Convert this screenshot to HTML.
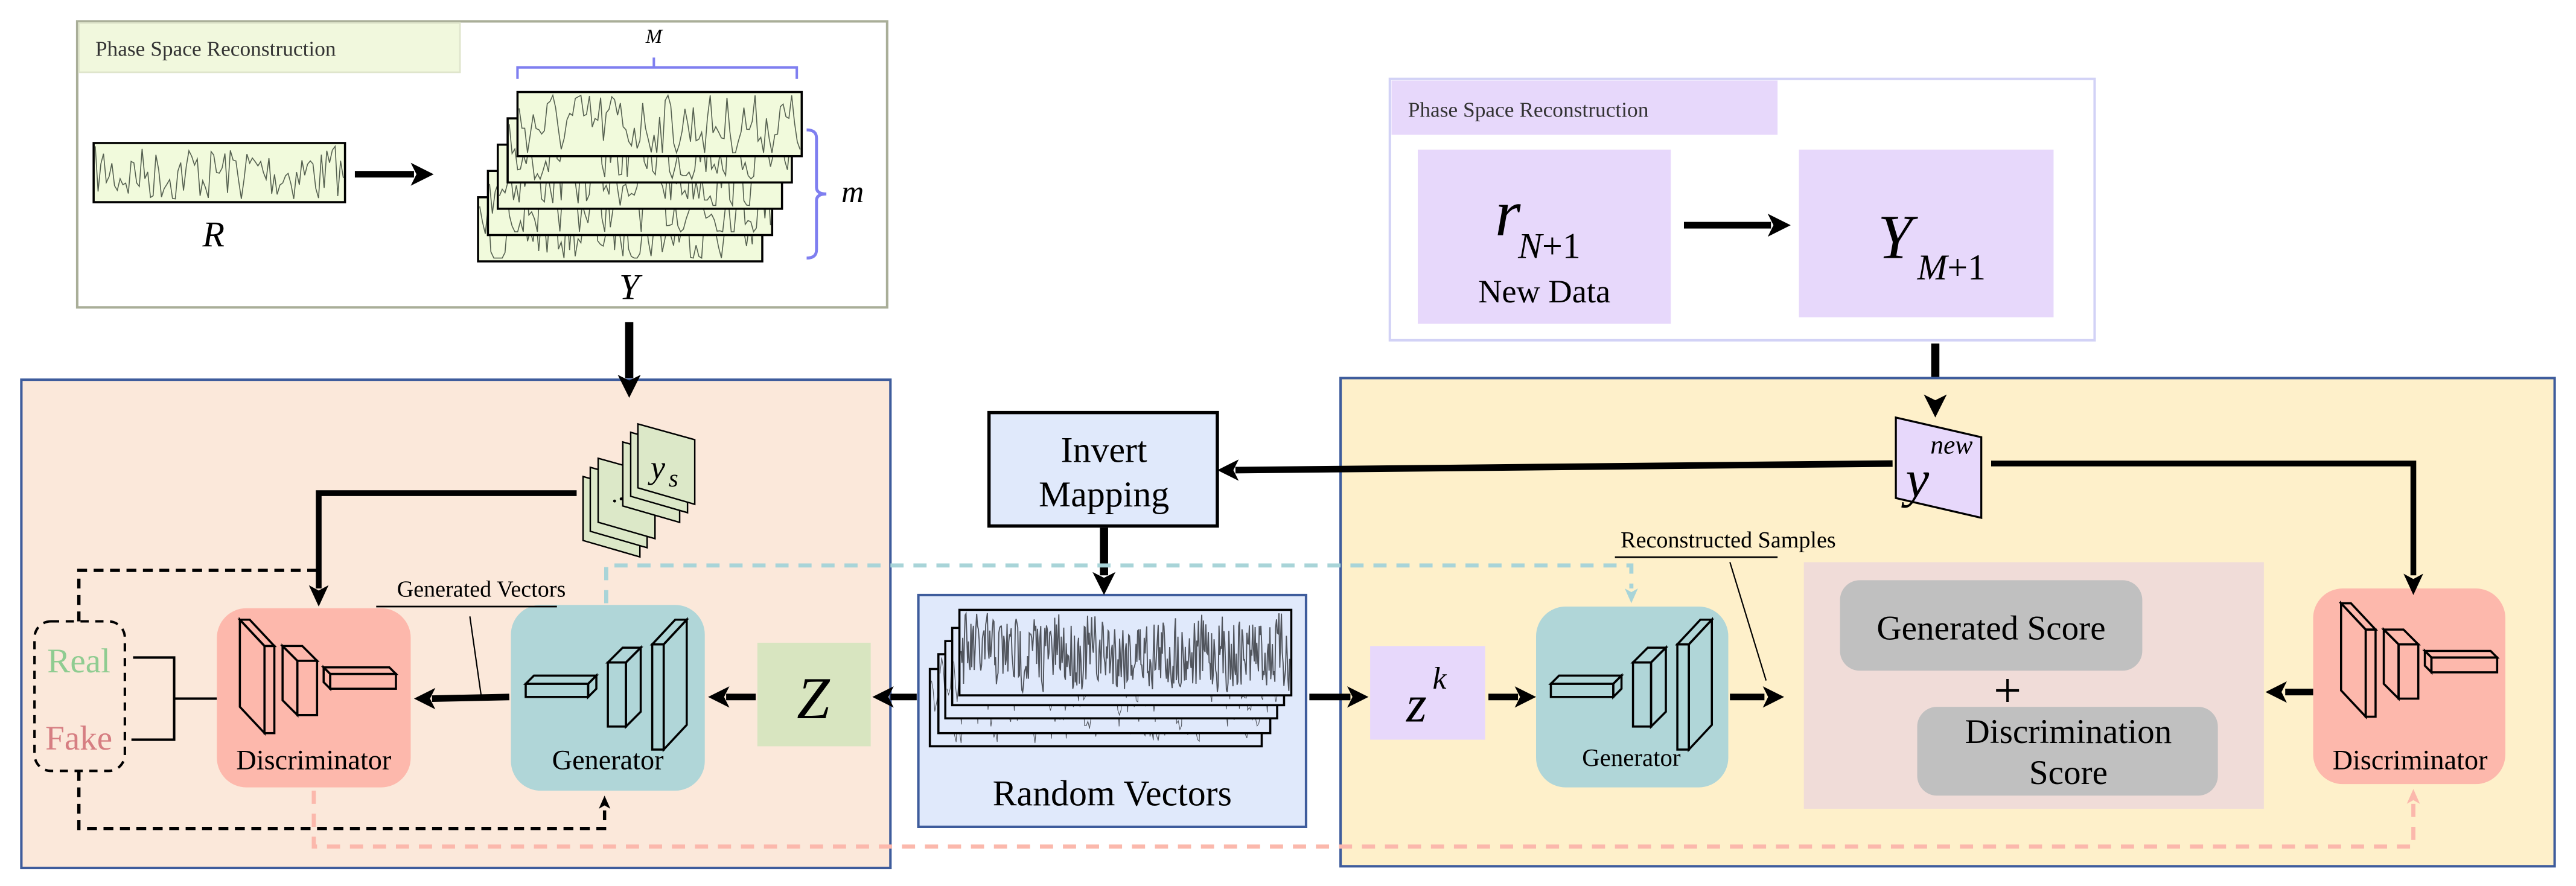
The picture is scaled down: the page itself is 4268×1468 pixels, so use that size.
<!DOCTYPE html>
<html><head><meta charset="utf-8">
<style>
html,body{margin:0;padding:0;background:#fff;}
svg{display:block;}
svg text{font-family:"Liberation Serif","DejaVu Serif","Times New Roman",Times,serif !important;}
</style></head>
<body>
<svg id="s" width="4268" height="1468" viewBox="0 0 1568 539" preserveAspectRatio="none" xmlns="http://www.w3.org/2000/svg">

<!-- Top-left PSR -->
<rect x="47" y="13" width="493" height="174" fill="#fff" stroke="#a9ae98" stroke-width="1.5"/>
<rect x="48" y="14" width="232" height="30" fill="#f1f8dd" stroke="#dfe5cc" stroke-width="1"/>
<text x="58" y="34" font-size="13" fill="#333">Phase Space Reconstruction</text>
<g id="Rbox"></g>
<line x1="216" y1="106" x2="252" y2="106" stroke="#000" stroke-width="4"/>
<text x="130" y="150" font-size="22" font-style="italic" text-anchor="middle">R</text>
<g id="Ystack"></g>
<path d="M315,48 V41 H398 V35 M398,41 H485 V48" fill="none" stroke="#7f7ff0" stroke-width="1.5"/>
<text x="398" y="26" font-size="12" font-style="italic" text-anchor="middle">M</text>
<path d="M491,79 Q497,79 497,84 V114 Q497,118 503,118 Q497,118 497,122 V152 Q497,157 491,157" fill="none" stroke="#7f7ff0" stroke-width="1.8"/>
<text x="519" y="123" font-size="19" font-style="italic" text-anchor="middle">m</text>
<text x="383" y="182" font-size="22" font-style="italic" text-anchor="middle">Y</text>
<line x1="383" y1="196" x2="383" y2="230" stroke="#000" stroke-width="5"/>

<!-- Top-right PSR -->
<rect x="846" y="48" width="429" height="159" fill="#fff" stroke="#d2d2f6" stroke-width="1.5"/>
<rect x="847" y="49" width="235" height="33" fill="#e7d8fb"/>
<text x="857" y="71" font-size="13" fill="#333">Phase Space Reconstruction</text>
<rect x="863" y="91" width="154" height="106" fill="#e7d8fb"/>
<rect x="1095" y="91" width="155" height="102" fill="#e7d8fb"/>
<text x="910" y="143" font-size="40" font-style="italic">r</text>
<text x="924" y="157" font-size="22"><tspan font-style="italic">N</tspan>+1</text>
<text x="940" y="184" font-size="20" text-anchor="middle">New Data</text>
<text x="1143" y="157" font-size="38" font-style="italic">Y</text>
<text x="1167" y="170" font-size="22"><tspan font-style="italic">M</tspan>+1</text>
<line x1="1025" y1="137" x2="1078" y2="137" stroke="#000" stroke-width="4"/>
<line x1="1178" y1="209" x2="1178" y2="243" stroke="#000" stroke-width="5"/>

<!-- Left panel -->
<rect x="13" y="231" width="529" height="297" fill="#fbe8da" stroke="#3e5c9c" stroke-width="1.5"/>
<!-- Right panel -->
<rect x="816" y="230" width="739" height="297" fill="#fef0ca" stroke="#3e5c9c" stroke-width="1.5"/>
<!-- Random Vectors box -->
<rect x="559" y="362" width="236" height="141" fill="#e0e9fb" stroke="#3e5c9c" stroke-width="1.5"/>
<g id="RVstack"></g>
<text x="677" y="490" font-size="22" text-anchor="middle">Random Vectors</text>
<!-- Invert Mapping -->
<rect x="602" y="251" width="139" height="69" fill="#e0e9fb" stroke="#000" stroke-width="2"/>
<text x="672" y="281" font-size="22" text-anchor="middle">Invert</text>
<text x="672" y="308" font-size="22" text-anchor="middle">Mapping</text>
<line x1="672" y1="321" x2="672" y2="350" stroke="#000" stroke-width="5"/>

<!-- dashed teal -->
<path d="M369,367 V344 H993 V358" fill="none" stroke="#a8d4d8" stroke-width="2.5" stroke-dasharray="8,6"/>
<!-- dashed pink -->
<path d="M191,481 V515 H1469 V488" fill="none" stroke="#fbb8ac" stroke-width="2.5" stroke-dasharray="8,6"/>

<!-- ys stack -->
<g id="ys"></g>
<text x="396" y="291" font-size="20" font-style="italic">y</text><text x="407" y="296" font-size="15" font-style="italic">s</text>
<path d="M351,300 H194 V358" fill="none" stroke="#000" stroke-width="3.5"/>

<!-- Real/Fake -->
<rect x="21" y="378" width="55" height="91" rx="10" fill="none" stroke="#000" stroke-width="1.5" stroke-dasharray="5,4"/>
<text x="48" y="409" font-size="21" fill="#8fcc91" text-anchor="middle">Real</text>
<text x="48" y="456" font-size="21" fill="#d67e82" text-anchor="middle">Fake</text>
<path d="M81,400 H106 V450 H80 M106,425 H132" fill="none" stroke="#000" stroke-width="1.5"/>
<path d="M48,378 V347 H193" fill="none" stroke="#000" stroke-width="2" stroke-dasharray="6,4"/>
<path d="M48,469 V504 H368 V490" fill="none" stroke="#000" stroke-width="2" stroke-dasharray="6,4"/>

<!-- Left discriminator / generator -->
<rect x="132" y="370" width="118" height="109" rx="18" fill="#fdb8ac"/>
<g id="d1"></g>
<text x="191" y="468" font-size="17" text-anchor="middle">Discriminator</text>
<rect x="311" y="368" width="118" height="113" rx="18" fill="#b0d6d8"/>
<g id="g1"></g>
<text x="370" y="468" font-size="17" text-anchor="middle">Generator</text>
<text x="293" y="363" font-size="14" text-anchor="middle">Generated Vectors</text>
<line x1="229" y1="369" x2="339" y2="369" stroke="#000" stroke-width="1"/>
<line x1="286" y1="375" x2="293" y2="424" stroke="#000" stroke-width="0.8"/>
<line x1="310" y1="424" x2="263" y2="425" stroke="#000" stroke-width="4"/>
<rect x="461" y="391" width="69" height="63" fill="#d8e5c0"/>
<text x="495" y="437" font-size="36" font-style="italic" text-anchor="middle">Z</text>
<line x1="460" y1="424" x2="442" y2="424" stroke="#000" stroke-width="4"/>
<line x1="558" y1="424" x2="542" y2="424" stroke="#000" stroke-width="4"/>

<!-- Right side -->
<line x1="797" y1="424" x2="822" y2="424" stroke="#000" stroke-width="4"/>
<rect x="834" y="393" width="70" height="57" fill="#e7d8fb"/>
<text x="856" y="439" font-size="32" font-style="italic">z</text><text x="872" y="419" font-size="19" font-style="italic">k</text>
<line x1="906" y1="424" x2="924" y2="424" stroke="#000" stroke-width="4"/>
<rect x="935" y="369" width="117" height="110" rx="18" fill="#b0d6d8"/>
<g id="g2"></g>
<text x="993" y="466" font-size="15" text-anchor="middle">Generator</text>
<text x="1052" y="333" font-size="14" text-anchor="middle">Reconstructed Samples</text>
<line x1="983" y1="339" x2="1082" y2="339" stroke="#000" stroke-width="1"/>
<line x1="1053" y1="342" x2="1075" y2="414" stroke="#000" stroke-width="0.8"/>
<line x1="1053" y1="424" x2="1074" y2="424" stroke="#000" stroke-width="4"/>
<rect x="1098" y="342" width="280" height="150" fill="#f0dcd8"/>
<rect x="1120" y="353" width="184" height="55" rx="12" fill="#c0c0c0"/>
<text x="1212" y="389" font-size="21" text-anchor="middle">Generated Score</text>
<text x="1222" y="430" font-size="30" text-anchor="middle">+</text>
<rect x="1167" y="430" width="183" height="54" rx="12" fill="#c0c0c0"/>
<text x="1259" y="452" font-size="21" text-anchor="middle">Discrimination</text>
<text x="1259" y="477" font-size="21" text-anchor="middle">Score</text>
<rect x="1408" y="358" width="117" height="119" rx="18" fill="#fdb8ac"/>
<g id="d2"></g>
<text x="1467" y="468" font-size="17" text-anchor="middle">Discriminator</text>
<line x1="1408" y1="421" x2="1391" y2="421" stroke="#000" stroke-width="4"/>

<!-- y_new -->
<polygon points="1154,254 1206,266 1206,315 1154,303" fill="#e7d8fb" stroke="#000" stroke-width="1.2"/>
<text x="1160" y="302" font-size="32" font-style="italic">y</text>
<text x="1175" y="276" font-size="16" font-style="italic">new</text>
<path d="M1212,282 H1469 V350" fill="none" stroke="#000" stroke-width="3.5"/>
<path d="M1152,282 L752,286" fill="none" stroke="#000" stroke-width="4"/>
<g id="heads"></g>
</svg>
<script>
(function(){
var NS="http://www.w3.org/2000/svg";
var seed=7;function rnd(){seed=(seed*16807)%2147483647;return seed/2147483647;}
function el(p,tag,a){var e=document.createElementNS(NS,tag);for(var k in a)e.setAttribute(k,a[k]);p.appendChild(e);return e;}
function wave(g,x,y,w,h,n,col,sw,fill,amp){
  amp=amp||0.42;
  el(g,"rect",{x:x,y:y,width:w,height:h,fill:fill,stroke:"#000","stroke-width":1.3});
  var pts=[],v=0;
  for(var i=0;i<=n;i++){v=v*0.2+(rnd()-0.5)*2;var yy=y+h*0.5+v*h*amp;yy=Math.max(y+2,Math.min(y+h-2,yy));pts.push((x+1+i*(w-2)/n).toFixed(1)+","+yy.toFixed(1));}
  el(g,"polyline",{points:pts.join(" "),fill:"none",stroke:col,"stroke-width":sw});
}
var R=document.getElementById("Rbox");wave(R,57,87,153,36,90,"#556050",0.6,"#f1fadc",0.5);
var Y=document.getElementById("Ystack");
for(var k=4;k>=0;k--){wave(Y,315-6*k,56+16*k,173,39,100,"#556050",0.6,"#f1fadc",0.5);}
var RV=document.getElementById("RVstack");
var L=[566,571.2,575.4,579.6,584],T=[407,398,390,382,371],B=[454,446,437,429,423];
for(var i=0;i<5;i++){wave(RV,L[i],T[i],202,B[i]-T[i],i==4?400:200,"#50545c",i==4?0.7:0.4,"#e0e9fb");}
var ys=document.getElementById("ys");
var xs=[354.9,359.3,364.1,379.1,383.9,388.3],yt=[289.9,284.3,278.8,268.9,263.0,257.9];
for(var j=0;j<6;j++){var x=xs[j],y=yt[j];
 el(ys,"polygon",{points:x+","+y+" "+(x+34.6)+","+(y+9.6)+" "+(x+34.6)+","+(y+48.9)+" "+x+","+(y+38.9),fill:"#dce8c8",stroke:"#000","stroke-width":0.9});
 if(j==2){for(var d=0;d<3;d++)el(ys,"circle",{cx:x+10+d*4,cy:y+26-d*1.3,r:0.9,fill:"#000"});}
}
function box(g,fx,fy,fw,fh,dx,dy){
 var st={fill:"none",stroke:"#000","stroke-width":1.3};
 el(g,"rect",Object.assign({x:fx,y:fy,width:fw,height:fh},st));
 if(dx<0){
  el(g,"polygon",Object.assign({points:fx+","+fy+" "+(fx+dx)+","+(fy+dy)+" "+(fx+dx)+","+(fy+fh+dy)+" "+fx+","+(fy+fh)},st));
  el(g,"polygon",Object.assign({points:fx+","+fy+" "+(fx+dx)+","+(fy+dy)+" "+(fx+fw+dx)+","+(fy+dy)+" "+(fx+fw)+","+fy},st));
 } else {
  el(g,"polygon",Object.assign({points:(fx+fw)+","+fy+" "+(fx+fw+dx)+","+(fy+dy)+" "+(fx+fw+dx)+","+(fy+fh+dy)+" "+(fx+fw)+","+(fy+fh)},st));
  el(g,"polygon",Object.assign({points:fx+","+fy+" "+(fx+dx)+","+(fy+dy)+" "+(fx+fw+dx)+","+(fy+dy)+" "+(fx+fw)+","+fy},st));
 }
}
function disc(id,ox,oy){var g=document.getElementById(id);g.setAttribute("transform","translate("+ox+","+oy+")");
 box(g,161,393,6,53,-15,-16);box(g,181,402,12,33,-9,-9);box(g,201,410,40,9,-4,-4);}
function gen(id,ox,oy){var g=document.getElementById(id);g.setAttribute("transform","translate("+ox+","+oy+")");
 box(g,320,416,38,8,5,-5);box(g,370,403,11,39,9,-9);box(g,397,392,7,64,14,-15);}
disc("d1",0,0);disc("d2",1279,-10);gen("g1",0,0);gen("g2",624,0);
var H=document.getElementById("heads");
function head(x,y,dir,len,hw,col){
 var p;
 if(dir=="r")p=[[x,y],[x-len,y-hw],[x-len*0.75,y],[x-len,y+hw]];
 if(dir=="l")p=[[x,y],[x+len,y-hw],[x+len*0.75,y],[x+len,y+hw]];
 if(dir=="d")p=[[x,y],[x-hw,y-len],[x,y-len*0.75],[x+hw,y-len]];
 if(dir=="u")p=[[x,y],[x-hw,y+len],[x,y+len*0.75],[x+hw,y+len]];
 el(H,"polygon",{points:p.map(function(q){return q.join(",")}).join(" "),fill:col||"#000"});
}
head(264,106,"r",14,7);head(383,242,"d",14,7);head(1090,137,"r",14,7);head(1178,254,"d",14,7);
head(672,362,"d",14,7);head(194,369,"d",13,6);head(368,484,"u",8,3.5);
head(252,425,"l",13,6.5);head(431,424,"l",13,6.5);head(531,424,"l",13,6.5);
head(833,424,"r",13,6.5);head(935,424,"r",13,6.5);head(1086,424,"r",13,6.5);
head(1379,421,"l",13,6.5);head(1469,362,"d",13,6);head(741,286,"l",13,6.5);
head(993,367,"d",9,4,"#a8d4d8");head(1469,480,"u",9,4,"#fbb8ac");
})();
</script>
</body></html>
